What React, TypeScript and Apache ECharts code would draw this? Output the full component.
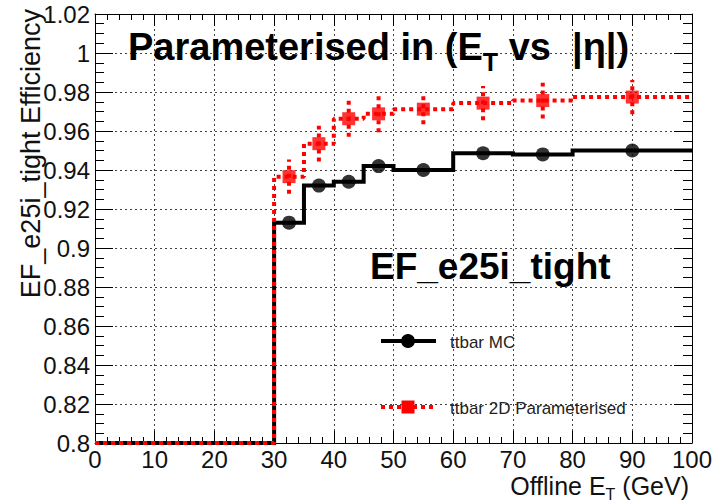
import React, { useEffect, useRef } from 'react';
import * as echarts from 'echarts';

// Offline E_T bin edges (GeV)
const BIN_EDGES = [0, 30, 35, 40, 45, 50, 60, 70, 80, 100];
// ttbar MC efficiency per bin
const MC_EFF = [0, 0.913, 0.932, 0.934, 0.942, 0.94, 0.9486, 0.948, 0.95];
// ttbar 2D parameterised efficiency per bin and its uncertainty
const PARAM_EFF = [0, 0.9366, 0.9535, 0.9663, 0.9688, 0.9712, 0.9743, 0.9756, 0.9774];
const PARAM_ERR = [0, 0.0088, 0.0092, 0.0092, 0.0095, 0.0078, 0.0088, 0.0092, 0.0088];

const X_MIN = 0;
const X_MAX = 100;
const X_STEP = 10;
const Y_MIN = 0.8;
const Y_MAX = 1.02;
const Y_STEP = 0.02;

const FONT = '"Liberation Sans", Arial, Helvetica, sans-serif';

// histogram outline: a horizontal segment for every bin, values below the frame sit on it
function stepPoints(values: number[]): number[][] {
  const pts: number[][] = [];
  values.forEach((v, i) => {
    const y = Math.max(v, Y_MIN);
    pts.push([BIN_EDGES[i], y]);
    pts.push([BIN_EDGES[i + 1], y]);
  });
  return pts;
}

function binCentres(values: number[]): number[][] {
  const pts: number[][] = [];
  values.forEach((v, i) => {
    if (v >= Y_MIN && v <= Y_MAX) pts.push([(BIN_EDGES[i] + BIN_EDGES[i + 1]) / 2, v]);
  });
  return pts;
}

function errorBars(values: number[], errs: number[]): number[][] {
  const out: number[][] = [];
  values.forEach((v, i) => {
    if (v >= Y_MIN && v <= Y_MAX) {
      out.push([(BIN_EDGES[i] + BIN_EDGES[i + 1]) / 2, v - errs[i], v + errs[i]]);
    }
  });
  return out;
}

const gridLine = { show: true, lineStyle: { color: '#444', width: 1, type: [2, 3] as number[] } };

function xAxisDef(position: 'bottom' | 'top') {
  const bottom = position === 'bottom';
  return {
    type: 'value',
    position,
    min: X_MIN,
    max: X_MAX,
    interval: X_STEP,
    axisLine: { show: true, onZero: false, lineStyle: { color: '#000', width: 1 } },
    axisTick: { show: true, inside: true, length: 12, lineStyle: { color: '#000', width: 1 } },
    minorTick: { show: true, splitNumber: 5, length: 6, lineStyle: { color: '#000', width: 1 } },
    splitLine: bottom ? gridLine : { show: false },
    axisLabel: {
      show: bottom,
      fontFamily: FONT,
      fontSize: 24,
      lineHeight: 20,
      color: '#111',
      margin: 6,
    },
  };
}

function yAxisDef(position: 'left' | 'right') {
  const left = position === 'left';
  return {
    type: 'value',
    position,
    min: Y_MIN,
    max: Y_MAX,
    interval: Y_STEP,
    axisLine: { show: true, onZero: false, lineStyle: { color: '#000', width: 1 } },
    axisTick: { show: true, inside: true, length: 18, lineStyle: { color: '#000', width: 1 } },
    minorTick: { show: true, splitNumber: 4, length: 9, lineStyle: { color: '#000', width: 1 } },
    splitLine: left ? gridLine : { show: false },
    axisLabel: {
      show: left,
      fontFamily: FONT,
      fontSize: 24,
      color: '#111',
      margin: 5,
      formatter: (v: number) => String(+v.toFixed(2)),
    },
  };
}

export default function App() {
  const ref = useRef<HTMLDivElement>(null);

  useEffect(() => {
    if (!ref.current) return;
    const chart = echarts.init(ref.current, undefined, { renderer: 'svg' });

    const option = {
      animation: false,
      backgroundColor: '#fff',
      grid: { left: 95, right: 30, top: 14, bottom: 59, containLabel: false },
      xAxis: [xAxisDef('bottom'), xAxisDef('top')],
      yAxis: [yAxisDef('left'), yAxisDef('right')],
      series: [
        {
          name: 'ttbar MC',
          type: 'line',
          data: stepPoints(MC_EFF),
          symbol: 'none',
          clip: true,
          lineStyle: { color: '#000', width: 4, join: 'miter' },
          z: 3,
        },
        {
          name: 'ttbar MC points',
          type: 'scatter',
          data: binCentres(MC_EFF),
          symbol: 'circle',
          symbolSize: 14,
          itemStyle: { color: '#000' },
          z: 4,
        },
        {
          name: 'ttbar 2D Parameterised',
          type: 'line',
          data: stepPoints(PARAM_EFF),
          symbol: 'none',
          clip: true,
          lineStyle: { color: '#ff0000', width: 4, type: [4, 4] },
          z: 5,
        },
        {
          name: 'ttbar 2D Parameterised errors',
          type: 'custom',
          data: errorBars(PARAM_EFF, PARAM_ERR),
          encode: { x: 0, y: [1, 2] },
          renderItem: (_params: any, api: any) => {
            const x = api.value(0);
            const p1 = api.coord([x, api.value(1)]);
            const p2 = api.coord([x, api.value(2)]);
            return {
              type: 'line',
              shape: { x1: p1[0], y1: p1[1], x2: p2[0], y2: p2[1] },
              style: { stroke: '#ff0000', lineWidth: 4, lineDash: [4, 4] },
            };
          },
          z: 5,
        },
        {
          name: 'ttbar 2D Parameterised points',
          type: 'scatter',
          data: binCentres(PARAM_EFF),
          symbol: 'rect',
          symbolSize: 13,
          itemStyle: { color: '#ff0000' },
          z: 6,
        },
      ],
      graphic: [
        // header
        {
          type: 'text',
          left: 128,
          top: 27.5,
          z: 10,
          style: {
            text: '{b|Parameterised in (E}{s|T}{b| vs  |η|)}',
            fill: '#000',
            rich: {
              b: { fontFamily: FONT, fontSize: 38, fontWeight: 'bold', lineHeight: 40, verticalAlign: 'middle', fill: '#000' },
              s: { fontFamily: FONT, fontSize: 25, fontWeight: 'bold', height: 10, lineHeight: 10, verticalAlign: 'bottom', fill: '#000' },
            },
          },
        },
        // trigger label
        {
          type: 'text',
          x: 370,
          y: 266,
          z: 10,
          style: {
            text: 'EF_e25i_tight',
            fontFamily: FONT,
            fontSize: 37,
            fontWeight: 'bold',
            fill: '#000',
            align: 'left',
            verticalAlign: 'middle',
          },
        },
        // y axis title
        {
          type: 'text',
          x: 31,
          y: 9,
          rotation: Math.PI / 2,
          z: 10,
          style: {
            text: 'EF_e25i_tight Efficiency',
            fontFamily: FONT,
            fontSize: 27,
            fill: '#111',
            align: 'right',
            verticalAlign: 'middle',
          },
        },
        // x axis title
        {
          type: 'text',
          right: 33,
          top: 473,
          z: 10,
          style: {
            text: '{n|Offline E}{s|T}{n| (GeV)}',
            fill: '#111',
            rich: {
              n: { fontFamily: FONT, fontSize: 25, lineHeight: 20, verticalAlign: 'middle', fill: '#111' },
              s: { fontFamily: FONT, fontSize: 16, height: 3, lineHeight: 3, verticalAlign: 'bottom', fill: '#111' },
            },
          },
        },
        // legend: ttbar MC
        {
          type: 'line',
          z: 10,
          shape: { x1: 381, y1: 341, x2: 436, y2: 341 },
          style: { stroke: '#000', lineWidth: 4 },
        },
        {
          type: 'circle',
          z: 11,
          shape: { cx: 408, cy: 341, r: 7 },
          style: { fill: '#000' },
        },
        {
          type: 'text',
          x: 450,
          y: 342,
          z: 10,
          style: {
            text: 'ttbar MC',
            fontFamily: FONT,
            fontSize: 17,
            fill: '#222',
            verticalAlign: 'middle',
          },
        },
        // legend: ttbar 2D Parameterised
        {
          type: 'line',
          z: 10,
          shape: { x1: 381, y1: 407, x2: 436, y2: 407 },
          style: { stroke: '#ff0000', lineWidth: 4, lineDash: [4, 4] },
        },
        {
          type: 'rect',
          z: 11,
          shape: { x: 401.5, y: 400.5, width: 13, height: 13 },
          style: { fill: '#ff0000' },
        },
        {
          type: 'text',
          x: 450,
          y: 408,
          z: 10,
          style: {
            text: 'ttbar 2D Parameterised',
            fontFamily: FONT,
            fontSize: 17,
            fill: '#222',
            verticalAlign: 'middle',
          },
        },
      ],
    };

    chart.setOption(option as any);
    return () => chart.dispose();
  }, []);

  return (
    <div
      ref={ref}
      style={{ position: 'absolute', left: 0, top: 0, width: 722, height: 502 }}
    />
  );
}
